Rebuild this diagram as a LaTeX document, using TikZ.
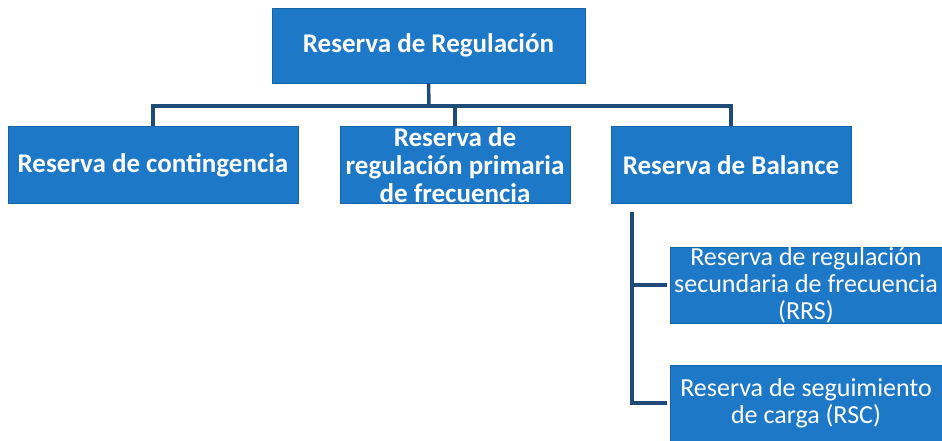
\documentclass[tikz,border=0pt]{standalone}
\usepackage{fontspec}
\setmainfont{Carlito}
\definecolor{boxblue}{RGB}{30,120,200}
\definecolor{boxedge}{RGB}{24,100,170}
\definecolor{linkblue}{RGB}{30,75,120}
\begin{document}
\begin{tikzpicture}[x=1pt,y=-1pt,
  box/.style={draw=boxedge,line width=0.8pt,fill=boxblue,text=white,align=center,inner sep=0pt,font=\fontsize{27}{28}\selectfont\bfseries},
  subbox/.style={box,font=\fontsize{26}{27}\selectfont},
  link/.style={draw=linkblue,line width=3.5pt}]
\useasboundingbox (0,0) rectangle (942,441);
\node[box,minimum width=313pt,minimum height=75pt] (top) at (428.5,45.5) {Reserva de Regulación};
\node[box,minimum width=290pt,minimum height=77pt] (left) at (153,165) {Reserva de contingencia};
\node[box,minimum width=230pt,minimum height=77pt] (mid) at (455,165) {Reserva de\\regulación primaria\\de frecuencia};
\node[box,minimum width=240pt,minimum height=77pt] (right) at (731,165) {Reserva de Balance};
\node[subbox,minimum width=272pt,minimum height=76pt] (rrs) at (806,285) {Reserva de regulación\\secundaria de frecuencia\\(RRS)};
\node[subbox,minimum width=272pt,minimum height=76pt] (rsc) at (806,403) {Reserva de seguimiento\\de carga (RSC)};
\coordinate (bus) at (429,106);
\coordinate (rb) at (632,212);
\draw[link] (top.south) -- (bus);
\draw[link] (left.north) |- (bus) -| (right.north);
\draw[link] (mid.north) -- (mid.north |- bus);
\draw[link,shorten >=3pt] (rb) |- (rrs.west);
\draw[link,shorten >=3pt] (rb) |- (rsc.west);
\end{tikzpicture}
\end{document}
